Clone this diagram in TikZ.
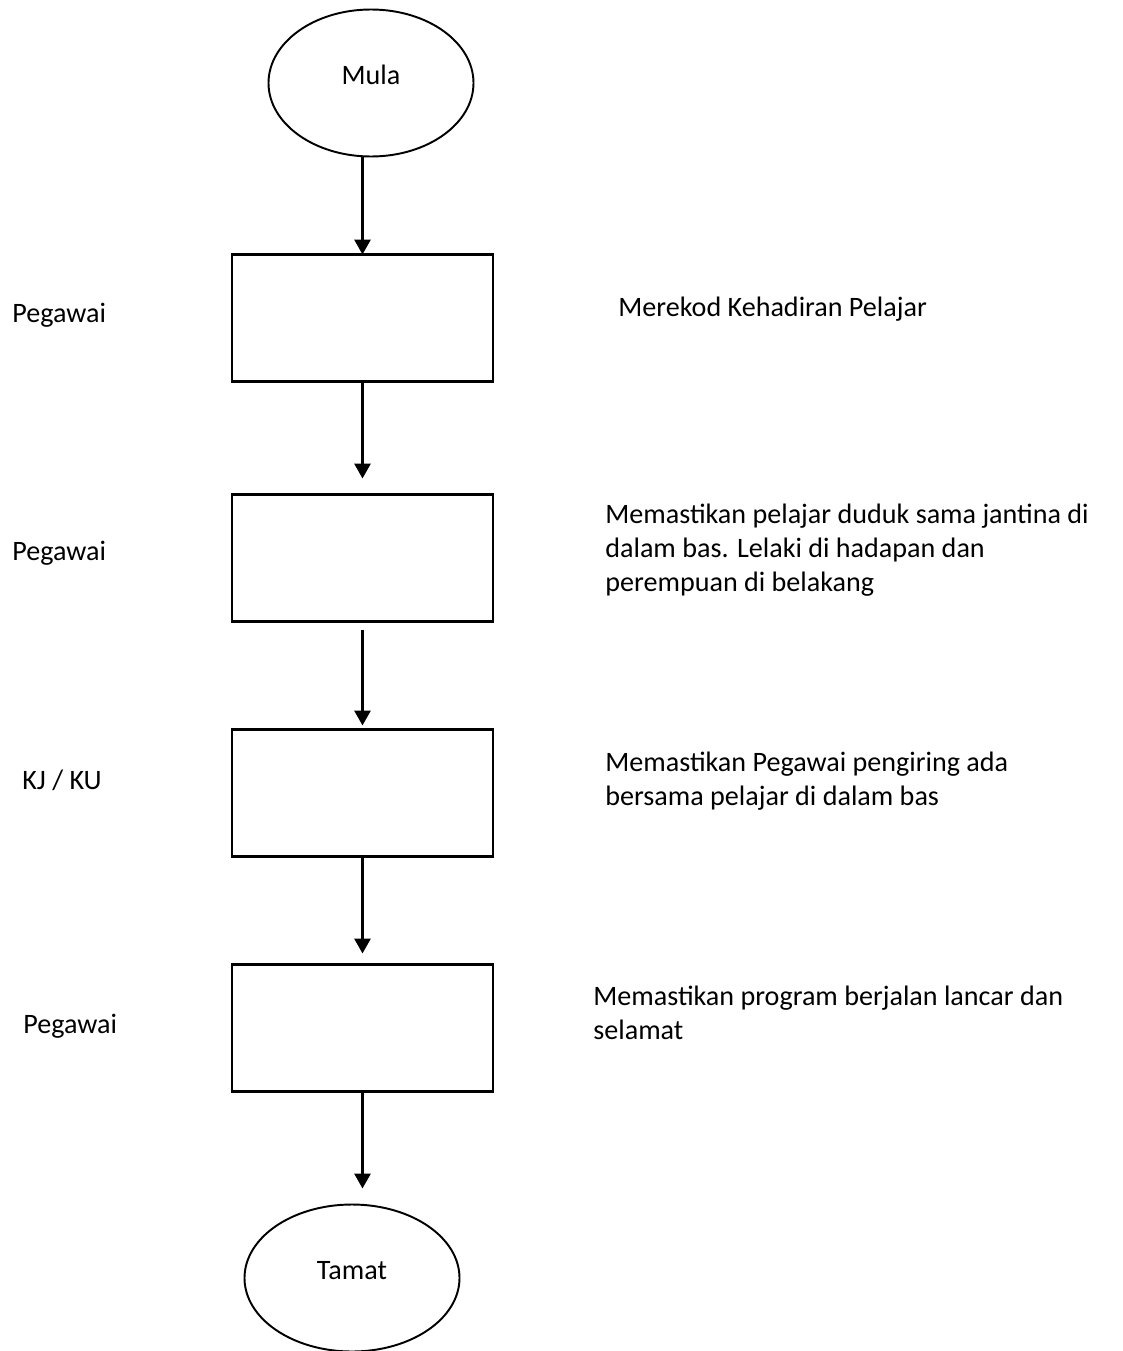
\documentclass[tikz,border=0pt]{standalone}
\usepackage{fontspec}
\setmainfont{Carlito}
\usepackage{tikz}
\usetikzlibrary{shapes, positioning, calc, arrows.meta}

\begin{document}
\begin{tikzpicture}[terminal/.style={ellipse,
      draw,
      line width=1.1pt,
      inner sep=0pt,
      outer sep=0pt,
      text height=0.36cm,
      text depth=0.3cm,
      minimum width=#1,
      minimum height=2.94cm},
    process/.style={rectangle,
      draw,
      line width=1.4pt,
      inner sep=0pt,
      outer sep=0pt,
      minimum width=5.22cm,
      minimum height=2.54cm},
    note/.style={inner sep=0pt,
      align=left},
    flow/.style={line width=1.7pt,
      -{Triangle[width=0.32cm,length=0.3cm]}},
    every node/.style={font=\fontsize{16}{19.5}\selectfont}]
  \useasboundingbox (0,0) rectangle (22.46,-27.02);

  % FLOW

  \node[terminal=4.1cm] (mula) at (7.42,-1.66) {Mula};

  \node[process] (step1) at (7.25,-6.36) {};
  \node[process, below=2.26cm of step1] (step2) {};
  \node[process, below=2.16cm of step2] (step3) {};
  \node[process, below=2.16cm of step3] (step4) {};

  \node[terminal=4.3cm,
    below=2.26cm of step4,
    xshift=-0.21cm] (tamat) {Tamat};

  % ACTORS

  \node[note, left=4.4cm of step1.west, anchor=west, yshift=0.06cm] (actor1) {Pegawai};
  \node[note, left=4.4cm of step2.west, anchor=west, yshift=0.1cm] (actor2) {Pegawai};
  \node[note, left=4.2cm of step3.west, anchor=west, yshift=0.26cm] (actor3) {KJ / KU};
  \node[note, left=4.18cm of step4.west, anchor=west, yshift=0.03cm] (actor4) {Pegawai};

  % NOTES

  \node[note, right=2.5cm of step1, yshift=0.18cm] (task1) {Merekod Kehadiran Pelajar};
  \node[note, right=2.24cm of step2, yshift=0.16cm] (task2) {
    Memastikan pelajar duduk sama jantina di\\
    dalam bas. Lelaki di hadapan dan\\
    perempuan di belakang};
  \node[note, right=2.24cm of step3, yshift=0.24cm] (task3) {
    Memastikan Pegawai pengiring ada\\
    bersama pelajar di dalam bas};
  \node[note, right=2.0cm of step4, yshift=0.3cm] (task4) {
    Memastikan program berjalan lancar dan\\
    selamat};

  % ARROWS

  \draw[flow] (step1.north |- mula.south) -- (step1.north);
  \draw[flow, shorten >=0.32cm] (step1) -- (step2);
  \draw[flow, shorten <=0.16cm, shorten >=0.08cm] (step2) -- (step3);
  \draw[flow, shorten >=0.22cm] (step3) -- (step4);
  \draw[flow, shorten >=0.32cm] (step4.south) -- (step4.south |- tamat.north);

\end{tikzpicture}
\end{document}
